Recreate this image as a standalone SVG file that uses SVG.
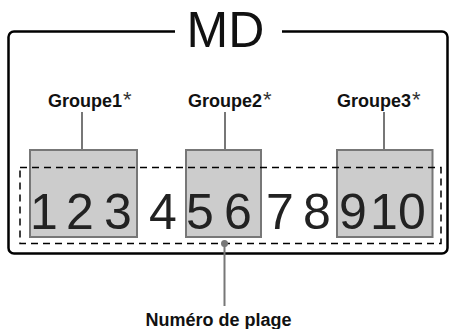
<svg xmlns="http://www.w3.org/2000/svg" width="450" height="329" viewBox="0 0 450 329">
<style>
.lbl{font-family:"Liberation Sans",Arial,sans-serif;font-weight:bold;font-size:18px;fill:#111}
.ast{font-weight:normal;font-size:22px;fill:#333}
.dig{font-family:"Liberation Sans",Arial,sans-serif;font-size:50px;fill:#222;text-anchor:middle}
.box{fill:#cccccc;stroke:#777;stroke-width:2}
.con{stroke:#777;stroke-width:2;fill:none}
</style>
<rect width="450" height="329" fill="#fff"/>
<g id="frame">
<path d="M175,31.5 H14 A5.5,5.5 0 0 0 8.5,37 V248 A5.5,5.5 0 0 0 14,253.5 H442 A5.5,5.5 0 0 0 447.5,248 V37 A5.5,5.5 0 0 0 442,31.5 H282" fill="none" stroke="#000" stroke-width="2.5"/>
<text x="186.5" y="46.5" font-family="'Liberation Sans',Arial,sans-serif" font-size="50" fill="#111">MD</text>
</g>
<g id="groupe1">
<rect class="box" x="30" y="150" width="107" height="87"/>
<text class="lbl" x="48" y="106.5">Groupe1<tspan class="ast" dx="1">*</tspan></text>
</g>
<g id="groupe2">
<rect class="box" x="186" y="150" width="75" height="87"/>
<text class="lbl" x="188" y="106.5">Groupe2<tspan class="ast" dx="1">*</tspan></text>
</g>
<g id="groupe3">
<rect class="box" x="337" y="150" width="95.5" height="87"/>
<text class="lbl" x="337" y="106.5">Groupe3<tspan class="ast" dx="1">*</tspan></text>
</g>
<g id="tracks">
<rect x="20" y="167.5" width="421" height="76" fill="none" stroke="#000" stroke-width="1.5" stroke-dasharray="7 5"/>
<text class="dig" x="44" y="229">1</text>
<text class="dig" x="80" y="229">2</text>
<text class="dig" x="118" y="229">3</text>
<text class="dig" x="163" y="229">4</text>
<text class="dig" x="200" y="229">5</text>
<text class="dig" x="238" y="229">6</text>
<text class="dig" x="280" y="229">7</text>
<text class="dig" x="317" y="229">8</text>
<text class="dig" x="353" y="229">9</text>
<text class="dig" x="384" y="229">1</text>
<text class="dig" x="412" y="229">0</text>
</g>
<g id="numero">
<text class="lbl" x="218.5" y="325.5" text-anchor="middle">Numéro de plage</text>
</g>
<g id="connectors">
<line class="con" x1="82" y1="112" x2="82" y2="150"/>
<line class="con" x1="225" y1="112" x2="225" y2="150"/>
<line class="con" x1="384" y1="112" x2="384" y2="150"/>
<line class="con" x1="224.5" y1="243.5" x2="224.5" y2="306"/>
<circle cx="224.5" cy="243.5" r="3.5" fill="#777"/>
</g>
</svg>
